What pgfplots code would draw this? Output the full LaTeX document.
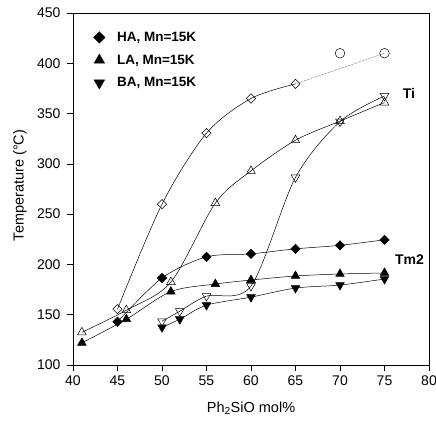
\documentclass[border=0pt]{standalone}
\usepackage{fontspec}
\setmainfont{Liberation Sans}
\usepackage{pgfplots}
\pgfplotsset{compat=1.18}
\begin{document}
\begin{tikzpicture}
\useasboundingbox (-73pt,-61pt) rectangle (363pt,365pt);
\begin{axis}[
  at={(0,0)}, anchor=south west,
  scale only axis, width=356pt, height=352pt,
  xmin=40, xmax=80, ymin=100, ymax=450,
  xtick={40,45,...,80}, ytick={100,150,...,450},
  /pgf/number format/assume math mode=true,
  ticklabel style={font=\fontsize{14}{16}\selectfont},
  tick align=outside, xtick pos=bottom, ytick pos=left,
  major tick length=6pt, tick style={black, line width=0.6pt},
  axis line style={line width=0.6pt},
  xticklabel style={yshift=-1pt},
  yticklabel style={xshift=-3pt},
  xlabel={Ph\textsubscript{2}SiO mol\%},
  ylabel={Temperature (°C)},
  label style={font=\fontsize{14.5}{16}\selectfont},
  xlabel style={at={(axis description cs:0.5,-0.122)}, anchor=center},
  ylabel style={at={(axis description cs:-0.149,0.51)}, anchor=center},
  legend style={draw=none, fill=none, at={(axis description cs:0.052,0.958)}, anchor=north west,
    font=\fontsize{13.5}{15}\selectfont\bfseries, row sep=8pt, inner sep=2pt,
    /tikz/every odd column/.append style={column sep=10pt}},
  legend cell align=left,
  every axis plot/.append style={line width=0.5pt, black},
]
% legend images
\addlegendimage{only marks, mark=square*, mark size=4pt, mark options={rotate=45, fill=black}}
\addlegendentry{HA, Mn=15K}
\addlegendimage{only marks, mark=triangle*, mark size=6pt, mark options={fill=black}}
\addlegendentry{LA, Mn=15K}
\addlegendimage{only marks, mark=triangle*, mark size=6pt, mark options={rotate=180, fill=black}}
\addlegendentry{BA, Mn=15K}

% ---- Ti (open) ----
\addplot[forget plot, smooth, tension=0.5, mark=square, mark size=3.3pt, mark options={rotate=45, fill=white, solid}]
  coordinates {(45,155.5) (50,260) (55,330.5) (60,365) (65,379.5)};
\addplot[forget plot, densely dotted, line width=0.4pt] coordinates {(65,379.5) (75,410)};
\addplot[forget plot, only marks, mark=o, mark size=4.8pt, mark options={fill=white}]
  coordinates {(70,410) (75,410)};
\addplot[forget plot, smooth, tension=0.5, mark=triangle, mark size=5pt, mark options={fill=white}]
  coordinates {(41,132.5) (46,154.5) (51,182.5) (56,261) (60,293) (65,323.5) (70,342.5) (75,361)};
\addplot[forget plot, smooth, tension=0.5, mark=triangle, mark size=5pt, mark options={rotate=180, fill=white}]
  coordinates {(50,143.5) (52,153.5) (55,168.5) (60,178.5) (65,286.5) (70,342) (75,367.5)};

% ---- Tm2 (filled) ----
\addplot[forget plot, smooth, tension=0.5, mark=square*, mark size=3.3pt, mark options={rotate=45, fill=black}]
  coordinates {(45,143) (50,186.5) (55,207.5) (60,210.5) (65,215.5) (70,219) (75,224.5)};
\addplot[forget plot, smooth, tension=0.5, mark=triangle*, mark size=5pt, mark options={fill=black}]
  coordinates {(41,122) (46,145.5) (51,173) (56,180.5) (60,184.5) (65,188.5) (70,190.5) (75,191.5)};
\addplot[forget plot, smooth, tension=0.5, mark=triangle*, mark size=5pt, mark options={rotate=180, fill=black}]
  coordinates {(50,137.5) (52,145.5) (55,159.5) (60,167.5) (65,176.5) (70,179.5) (75,185.5)};

\node[font=\fontsize{14}{16}\selectfont\bfseries] at (axis cs:77.75,370) {Ti};
\node[font=\fontsize{14}{16}\selectfont\bfseries] at (axis cs:77.8,204.5) {Tm2};
\end{axis}
\end{tikzpicture}
\end{document}
